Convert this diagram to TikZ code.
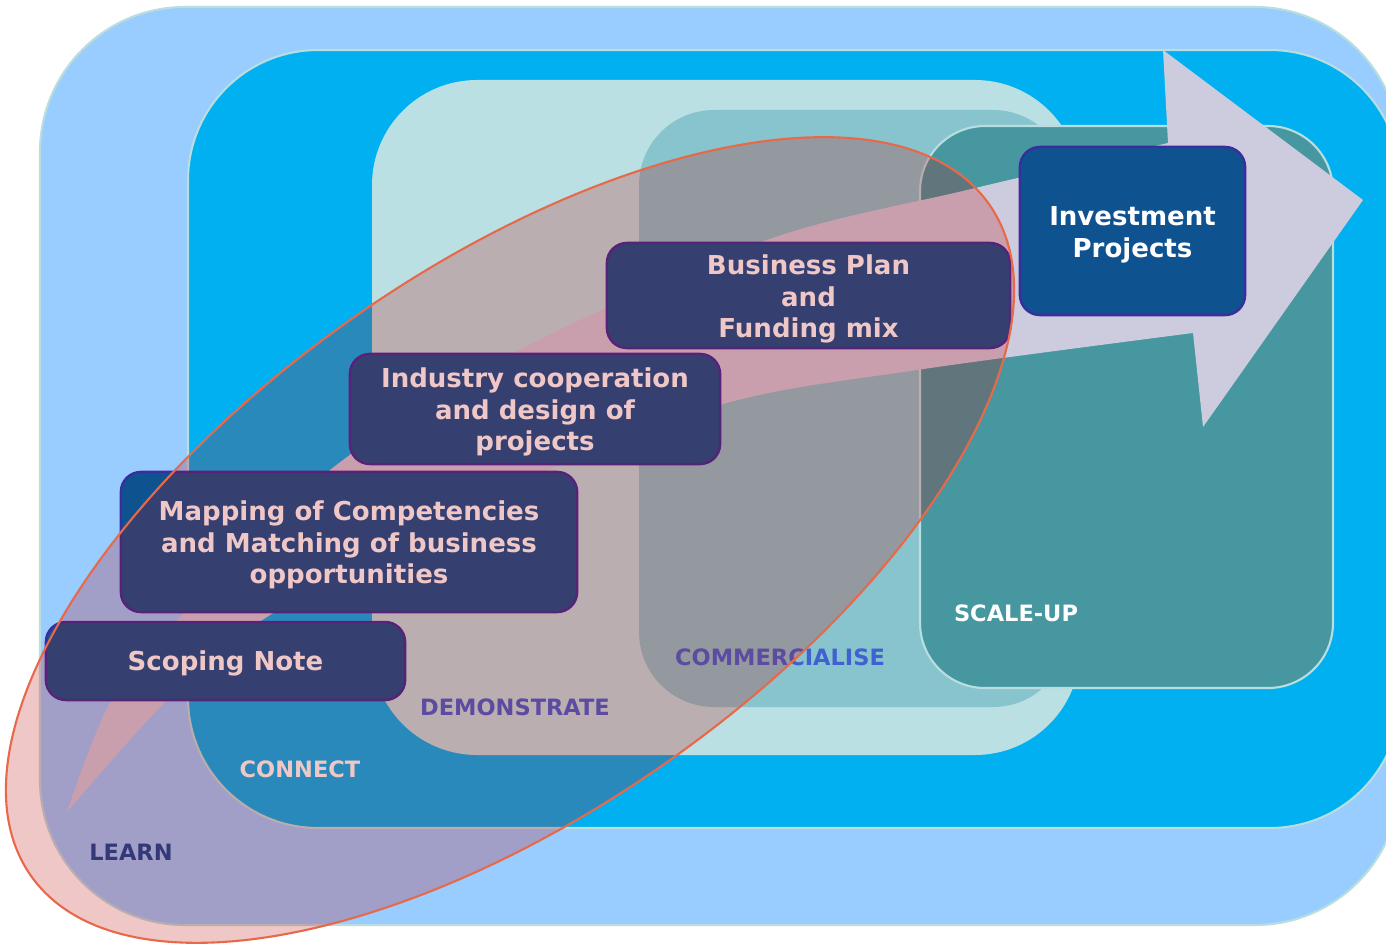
\documentclass[tikz,border=0pt]{standalone}
\usepackage{fontspec}
\setmainfont{DejaVu Sans}
\definecolor{learnc}{HTML}{99CCFF}
\definecolor{connc}{HTML}{00B0F0}
\definecolor{democ}{HTML}{BAE0E3}
\definecolor{commc}{HTML}{88C4CD}
\definecolor{scalec}{HTML}{4697A0}
\definecolor{edgec}{HTML}{B8DEDF}
\definecolor{arrowc}{HTML}{CDCCDE}
\definecolor{boxc}{HTML}{0F5290}
\definecolor{boxedge}{HTML}{3A2E9C}
\definecolor{learnt}{HTML}{0C4A98}
\definecolor{labblue}{HTML}{3F62D0}
\definecolor{ovl}{RGB}{191,0,0}
\definecolor{ellc}{HTML}{E8694A}
\begin{document}
\begin{tikzpicture}[x=0.01cm,y=-0.01cm,
  stepbox/.style={draw=boxedge, line width=0.7pt, fill=boxc, rounded corners=0.2cm, inner sep=0pt},
  steptext/.style={text=white, font=\fontsize{7.4}{9.0}\selectfont\bfseries, align=center, inner sep=0pt},
  lab/.style={font=\fontsize{6.4}{7.6}\selectfont\bfseries, inner sep=0pt}]
\useasboundingbox (0,0) rectangle (1386,946);
\fill[white] (0,0) rectangle (1386,946);
\begin{scope}
\clip (0,0) rectangle (1386,946);
% area boxes
\filldraw[fill=learnc, draw=edgec, line width=0.6pt, rounded corners=1.45cm] (40,7) rectangle (1400,925);
\filldraw[fill=connc, draw=edgec, line width=0.6pt, rounded corners=1.3cm] (188,50) rectangle (1400,828);
\fill[democ, rounded corners=1.05cm] (372,80) rectangle (1080,755);
\fill[commc, rounded corners=0.75cm] (639,110) rectangle (1068,707);
\filldraw[fill=scalec, draw=edgec, line width=0.6pt, rounded corners=0.65cm] (920,126) rectangle (1333,688);
% big arrow
\fill[arrowc] (67,812) -- plot[smooth] coordinates {(67,812) (110,703) (180,617) (330,470) (513,353) (767,240) (967,190) (1168,143)}
  -- (1163,50) -- (1363,200) -- (1203,427) -- (1193,333)
  -- plot[smooth] coordinates {(1193,333) (917,370) (720,405) (480,500) (267,617) (167,700) (67,812)} -- cycle;
% step boxes
\node[stepbox, minimum width=2.25cm, minimum height=1.68cm] (inv) at (1132.5,231) {};
\node[stepbox, minimum width=4.03cm, minimum height=1.05cm] (bp) at (808.5,295.5) {};
\node[stepbox, minimum width=3.70cm, minimum height=1.10cm] (ind) at (535,409) {};
\node[stepbox, minimum width=4.56cm, minimum height=1.40cm] (map) at (349,542) {};
\node[stepbox, minimum width=3.59cm, minimum height=0.78cm] (scope) at (225.5,661) {};
\node[steptext] (inv-t) at ([yshift=-0.035cm]inv.center) {Investment\\Projects};
\node[steptext] (bp-t) at ([yshift=-0.035cm]bp.center) {Business Plan\\and\\Funding mix};
\node[steptext] (ind-t) at ([yshift=-0.03cm]ind.center) {Industry cooperation\\and design of\\projects};
\node[steptext] (map-t) at ([yshift=-0.03cm]map.center) {Mapping of Competencies\\and Matching of business\\opportunities};
\node[steptext] (scope-t) at ([yshift=-0.025cm]scope.center) {Scoping Note};
% labels
\node[lab, text=learnt] (learn) at (131,852) {LEARN};
\node[lab, text=white] (connect) at (300,769) {CONNECT};
\node[lab, text=labblue] (demo) at (515,707) {DEMONSTRATE};
\node[lab, text=labblue] (comm) at (780,657) {COMMERCIALISE};
\node[lab, text=white] (scale) at (1016,613) {SCALE-UP};
% ellipse overlay
\fill[ovl, fill opacity=0.22, rotate around={35:(510,540)}] (510,540) ellipse [x radius=585, y radius=272];
\draw[ellc, line width=0.6pt, rotate around={35:(510,540)}] (510,540) ellipse [x radius=585, y radius=272];
\end{scope}
\end{tikzpicture}
\end{document}
